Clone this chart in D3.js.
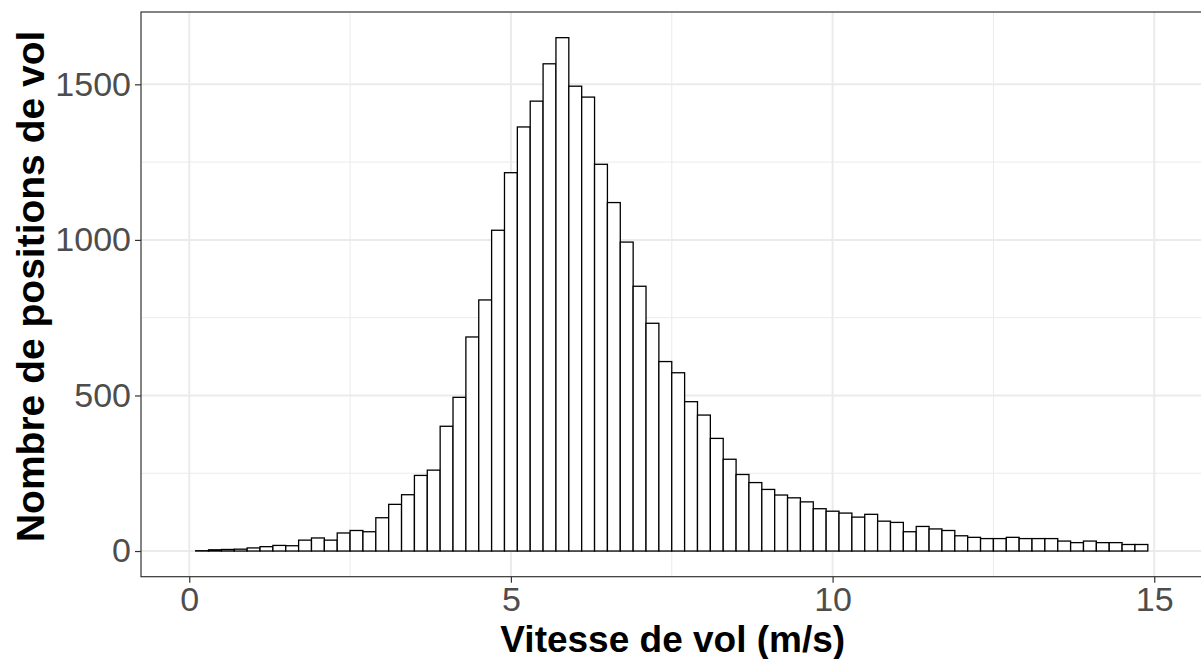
<!DOCTYPE html>
<html lang="fr">
<head>
    <meta charset="UTF-8">
    <title>Vitesse de vol</title>
    <style>
        body { margin: 0; background: #fff; }
        text { font-family: "Liberation Sans", Arial, sans-serif; }
    </style>
</head>
<body>
<svg></svg>
<script src="https://d3js.org/d3.v7.min.js"></script>
<script>
    // bin centres (m/s), bins are 0.2 wide
    var vitesse = [0.2, 0.4, 0.6, 0.8, 1.0, 1.2, 1.4, 1.6, 1.8, 2.0, 2.2, 2.4, 2.6, 2.8, 3.0,
        3.2, 3.4, 3.6, 3.8, 4.0, 4.2, 4.4, 4.6, 4.8, 5.0, 5.2, 5.4, 5.6, 5.8, 6.0,
        6.2, 6.4, 6.6, 6.8, 7.0, 7.2, 7.4, 7.6, 7.8, 8.0, 8.2, 8.4, 8.6, 8.8, 9.0,
        9.2, 9.4, 9.6, 9.8, 10.0, 10.2, 10.4, 10.6, 10.8, 11.0, 11.2, 11.4, 11.6, 11.8, 12.0,
        12.2, 12.4, 12.6, 12.8, 13.0, 13.2, 13.4, 13.6, 13.8, 14.0, 14.2, 14.4, 14.6, 14.8];
    var positions = [1, 4, 5, 6, 10, 14, 18, 17, 35, 42, 35, 58, 66, 62, 107,
        150, 181, 243, 260, 401, 494, 688, 807, 1031, 1216, 1363, 1446, 1566, 1650, 1494,
        1459, 1243, 1120, 993, 851, 732, 609, 573, 480, 437, 362, 295, 246, 220, 198,
        180, 171, 158, 136, 128, 122, 109, 118, 96, 92, 62, 79, 71, 66, 49,
        44, 40, 40, 44, 40, 40, 40, 32, 27, 32, 27, 27, 21, 21];
    var binWidth = 0.2;
    var xTicks = [0, 5, 10, 15];
    var xMinor = [2.5, 7.5, 12.5];
    var yTicks = [0, 500, 1000, 1500];
    var yMinor = [250, 750, 1250];

    var width = 1201, height = 659;
    var pLeft = 141, pRight = 1202.5, pTop = 12, pBottom = 576.7;

    var svg = d3.select("svg").attr("width", width).attr("height", height);

    var x = d3.scaleLinear().domain([-0.75, 15.75]).range([pLeft, pRight]);
    var yMax = d3.max(positions);
    var y = d3.scaleLinear().domain([-0.05 * yMax, yMax * 1.05]).range([pBottom, pTop]);

    var panel = svg.append("g");

    panel.selectAll(".minorY").data(yMinor).enter().append("line")
        .attr("x1", pLeft).attr("x2", pRight)
        .attr("y1", function (d) { return y(d); }).attr("y2", function (d) { return y(d); })
        .attr("stroke", "#ebebeb").attr("stroke-width", 1);
    panel.selectAll(".minorX").data(xMinor).enter().append("line")
        .attr("y1", pTop).attr("y2", pBottom)
        .attr("x1", function (d) { return x(d); }).attr("x2", function (d) { return x(d); })
        .attr("stroke", "#ebebeb").attr("stroke-width", 1);
    panel.selectAll(".majorY").data(yTicks).enter().append("line")
        .attr("x1", pLeft).attr("x2", pRight)
        .attr("y1", function (d) { return y(d); }).attr("y2", function (d) { return y(d); })
        .attr("stroke", "#ebebeb").attr("stroke-width", 2);
    panel.selectAll(".majorX").data(xTicks).enter().append("line")
        .attr("y1", pTop).attr("y2", pBottom)
        .attr("x1", function (d) { return x(d); }).attr("x2", function (d) { return x(d); })
        .attr("stroke", "#ebebeb").attr("stroke-width", 2);

    panel.selectAll("rect.bar").data(positions).enter().append("rect")
        .attr("class", "bar")
        .attr("x", function (d, i) { return x(vitesse[i] - binWidth / 2); })
        .attr("width", function (d, i) { return x(vitesse[i] + binWidth / 2) - x(vitesse[i] - binWidth / 2); })
        .attr("y", function (d) { return y(d); })
        .attr("height", function (d) { return y(0) - y(d); })
        .attr("fill", "#fff")
        .attr("stroke", "#000")
        .attr("stroke-width", 1.3);

    // panel border
    svg.append("rect")
        .attr("x", pLeft).attr("y", pTop)
        .attr("width", pRight - pLeft).attr("height", pBottom - pTop)
        .attr("fill", "none").attr("stroke", "#333").attr("stroke-width", 1.2);

    // axes
    var xAxis = svg.append("g").attr("transform", "translate(0," + pBottom + ")")
        .call(d3.axisBottom(x).tickValues(xTicks).tickFormat(d3.format("d")).tickSize(6).tickPadding(4));
    var yAxis = svg.append("g").attr("transform", "translate(" + pLeft + ",0)")
        .call(d3.axisLeft(y).tickValues(yTicks).tickFormat(d3.format("d")).tickSize(6).tickPadding(4));
    [xAxis, yAxis].forEach(function (a) {
        a.select(".domain").remove();
        a.selectAll(".tick line").attr("stroke", "#333").attr("stroke-width", 1.2);
        a.selectAll(".tick text").attr("fill", "#4d4d4d")
            .style("font-size", "34px").style("font-family", "Liberation Sans, Arial, sans-serif");
    });
    xAxis.selectAll(".tick text").attr("dy", "0.72em");

    svg.append("text")
        .attr("x", (pLeft + pRight) / 2 + 1).attr("y", 652)
        .attr("text-anchor", "middle")
        .style("font-size", "37px").style("font-weight", "bold")
        .text("Vitesse de vol (m/s)");

    svg.append("text")
        .attr("transform", "translate(44," + ((pTop + pBottom) / 2 - 8) + ") rotate(-90)")
        .attr("text-anchor", "middle")
        .style("font-size", "39px").style("font-weight", "bold")
        .text("Nombre de positions de vol");
</script>
</body>
</html>
